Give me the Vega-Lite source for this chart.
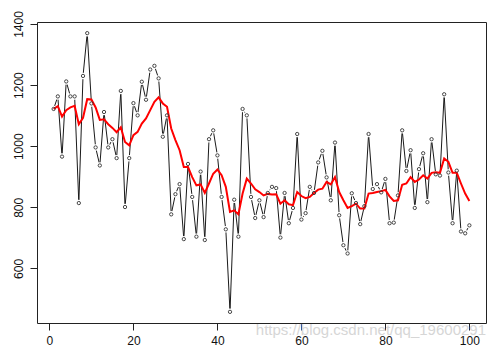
{
  "$schema": "https://vega.github.io/schema/vega-lite/v6.json",
  "width": 449,
  "height": 301,
  "autosize": {"type": "none"},
  "padding": {"left": 37, "top": 22, "right": 10, "bottom": 38},
  "background": "white",
  "config": {
    "view": {"stroke": "#222", "strokeWidth": 1},
    "font": "Liberation Sans",
    "axis": {"domain": false, "grid": false, "tickColor": "#222", "tickSize": 7, "labelFontSize": 12, "labelColor": "#111", "labelFont": "Liberation Sans", "title": null, "format": "d"}
  },
  "title": {"text": "https://blog.csdn.net/qq_19600291", "orient": "bottom", "anchor": "end", "offset": -23, "fontSize": 15, "fontWeight": "normal", "color": "#d6d6d6", "font": "Liberation Sans"},
  "datasets": {
    "obs": [
      {"i":1,"v":1122},{"i":2,"v":1163},{"i":3,"v":966},{"i":4,"v":1212},{"i":5,"v":1163},{"i":6,"v":1163},{"i":7,"v":814},{"i":8,"v":1230},{"i":9,"v":1370},{"i":10,"v":1140},
      {"i":11,"v":996},{"i":12,"v":937},{"i":13,"v":1112},{"i":14,"v":996},{"i":15,"v":1023},{"i":16,"v":961},{"i":17,"v":1181},{"i":18,"v":801},{"i":19,"v":961},{"i":20,"v":1141},
      {"i":21,"v":1101},{"i":22,"v":1211},{"i":23,"v":1152},{"i":24,"v":1251},{"i":25,"v":1263},{"i":26,"v":1222},{"i":27,"v":1031},{"i":28,"v":1101},{"i":29,"v":777},{"i":30,"v":843},
      {"i":31,"v":876},{"i":32,"v":696},{"i":33,"v":942},{"i":34,"v":834},{"i":35,"v":704},{"i":36,"v":917},{"i":37,"v":693},{"i":38,"v":1023},{"i":39,"v":1052},{"i":40,"v":970},
      {"i":41,"v":834},{"i":42,"v":728},{"i":43,"v":458},{"i":44,"v":825},{"i":45,"v":704},{"i":46,"v":1122},{"i":47,"v":1101},{"i":48,"v":834},{"i":49,"v":765},{"i":50,"v":823},
      {"i":51,"v":768},{"i":52,"v":847},{"i":53,"v":867},{"i":54,"v":863},{"i":55,"v":701},{"i":56,"v":847},{"i":57,"v":748},{"i":58,"v":798},{"i":59,"v":1040},{"i":60,"v":760},
      {"i":61,"v":781},{"i":62,"v":867},{"i":63,"v":847},{"i":64,"v":947},{"i":65,"v":985},{"i":66,"v":898},{"i":67,"v":823},{"i":68,"v":1012},{"i":69,"v":774},{"i":70,"v":676},
      {"i":71,"v":649},{"i":72,"v":846},{"i":73,"v":814},{"i":74,"v":745},{"i":75,"v":804},{"i":76,"v":1040},{"i":77,"v":860},{"i":78,"v":876},{"i":79,"v":849},{"i":80,"v":893},
      {"i":81,"v":748},{"i":82,"v":750},{"i":83,"v":839},{"i":84,"v":1052},{"i":85,"v":919},{"i":86,"v":987},{"i":87,"v":798},{"i":88,"v":925},{"i":89,"v":977},{"i":90,"v":817},
      {"i":91,"v":1023},{"i":92,"v":908},{"i":93,"v":904},{"i":94,"v":1170},{"i":95,"v":914},{"i":96,"v":748},{"i":97,"v":920},{"i":98,"v":721},{"i":99,"v":715},{"i":100,"v":741}
    ],
    "smooth": [
      {"i":1,"v":1122},{"i":2,"v":1131},{"i":3,"v":1097},{"i":4,"v":1118},{"i":5,"v":1127},{"i":6,"v":1132},{"i":7,"v":1072},{"i":8,"v":1093},{"i":9,"v":1154},{"i":10,"v":1153},
      {"i":11,"v":1127},{"i":12,"v":1086},{"i":13,"v":1088},{"i":14,"v":1072},{"i":15,"v":1060},{"i":16,"v":1046},{"i":17,"v":1062},{"i":18,"v":1014},{"i":19,"v":1003},{"i":20,"v":1036},
      {"i":21,"v":1047},{"i":22,"v":1074},{"i":23,"v":1091},{"i":24,"v":1118},{"i":25,"v":1145},{"i":26,"v":1160},{"i":27,"v":1140},{"i":28,"v":1129},{"i":29,"v":1058},{"i":30,"v":1020},
      {"i":31,"v":987},{"i":32,"v":932},{"i":33,"v":932},{"i":34,"v":899},{"i":35,"v":872},{"i":36,"v":875},{"i":37,"v":847},{"i":38,"v":878},{"i":39,"v":910},{"i":40,"v":924},
      {"i":41,"v":905},{"i":42,"v":867},{"i":43,"v":785},{"i":44,"v":790},{"i":45,"v":777},{"i":46,"v":845},{"i":47,"v":894},{"i":48,"v":878},{"i":49,"v":859},{"i":50,"v":850},
      {"i":51,"v":839},{"i":52,"v":844},{"i":53,"v":842},{"i":54,"v":843},{"i":55,"v":812},{"i":56,"v":823},{"i":57,"v":810},{"i":58,"v":807},{"i":59,"v":850},{"i":60,"v":837},
      {"i":61,"v":830},{"i":62,"v":834},{"i":63,"v":847},{"i":64,"v":858},{"i":65,"v":861},{"i":66,"v":883},{"i":67,"v":875},{"i":68,"v":899},{"i":69,"v":850},{"i":70,"v":823},
      {"i":71,"v":798},{"i":72,"v":804},{"i":73,"v":812},{"i":74,"v":796},{"i":75,"v":796},{"i":76,"v":845},{"i":77,"v":847},{"i":78,"v":850},{"i":79,"v":853},{"i":80,"v":857},
      {"i":81,"v":836},{"i":82,"v":821},{"i":83,"v":823},{"i":84,"v":874},{"i":85,"v":878},{"i":86,"v":899},{"i":87,"v":883},{"i":88,"v":891},{"i":89,"v":905},{"i":90,"v":894},
      {"i":91,"v":913},{"i":92,"v":915},{"i":93,"v":913},{"i":94,"v":960},{"i":95,"v":949},{"i":96,"v":913},{"i":97,"v":913},{"i":98,"v":878},{"i":99,"v":845},{"i":100,"v":821}
    ]
  },
  "encoding": {
    "x": {"field": "i", "type": "quantitative", "scale": {"domain": [-2.96, 103.96], "nice": false, "zero": false},
          "axis": {"values": [0, 20, 40, 60, 80, 100], "labelPadding": 5}},
    "y": {"field": "v", "type": "quantitative", "scale": {"domain": [421.5, 1406.5], "nice": false, "zero": false},
          "axis": {"values": [600, 800, 1000, 1200, 1400], "labelAngle": -90, "labelAlign": "center", "labelBaseline": "bottom", "labelPadding": 5}}
  },
  "layer": [
    {"data": {"name": "obs"}, "mark": {"type": "line", "color": "#1a1a1a", "strokeWidth": 1}},
    {"data": {"name": "obs"}, "mark": {"type": "point", "shape": "circle", "filled": true, "color": "white", "opacity": 1, "size": 42}},
    {"data": {"name": "smooth"}, "mark": {"type": "line", "color": "#ff0000", "strokeWidth": 2}},
    {"data": {"name": "obs"}, "mark": {"type": "point", "shape": "circle", "filled": false, "color": "#333", "opacity": 1, "size": 11, "strokeWidth": 0.9}}
  ]
}
